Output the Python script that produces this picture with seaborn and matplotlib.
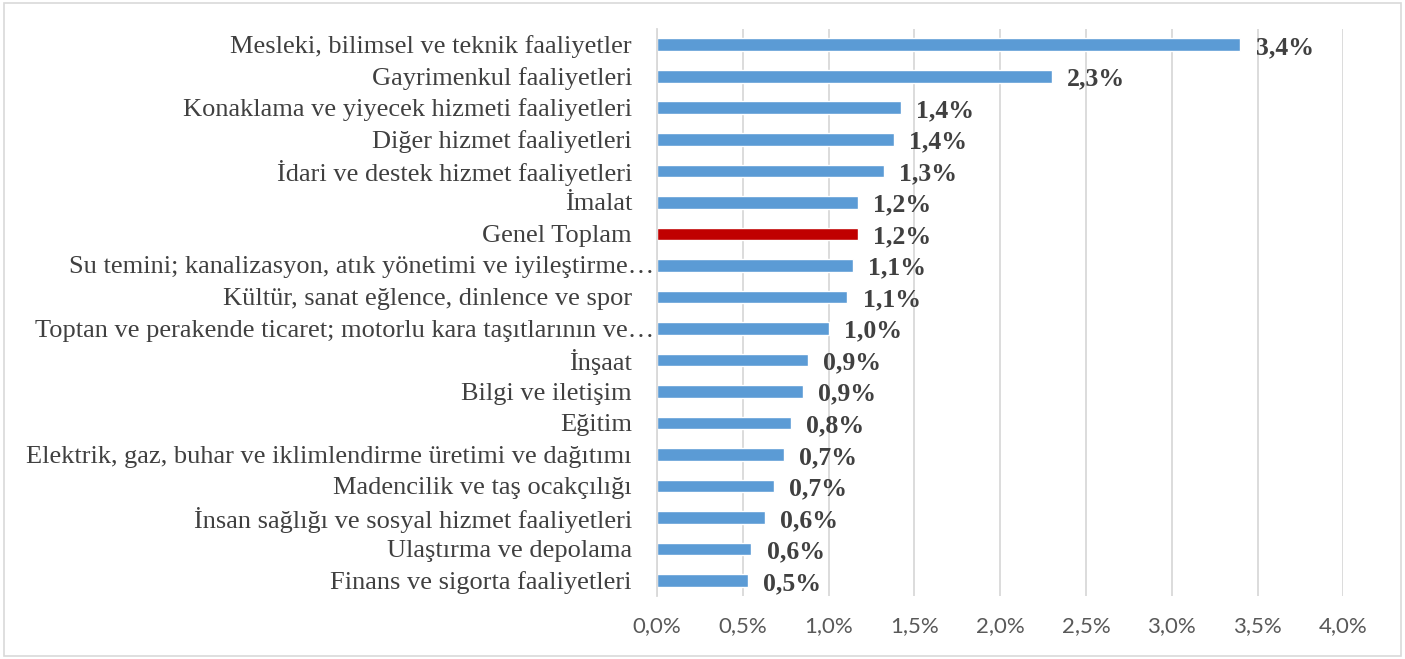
import matplotlib
matplotlib.use("Agg")
import matplotlib.pyplot as plt
import seaborn as sns
import pandas as pd
from matplotlib.ticker import FuncFormatter
from matplotlib.patches import Rectangle

# sector labels, top to bottom
sectors = [
    "Mesleki, bilimsel ve teknik faaliyetler",
    "Gayrimenkul faaliyetleri",
    "Konaklama ve yiyecek hizmeti faaliyetleri",
    "Diğer hizmet faaliyetleri",
    "İdari ve destek hizmet faaliyetleri",
    "İmalat",
    "Genel Toplam",
    "Su temini; kanalizasyon, atık yönetimi ve iyileştirme…",
    "Kültür, sanat eğlence, dinlence ve spor",
    "Toptan ve perakende ticaret; motorlu kara taşıtlarının ve…",
    "İnşaat",
    "Bilgi ve iletişim",
    "Eğitim",
    "Elektrik, gaz, buhar ve iklimlendirme üretimi ve dağıtımı",
    "Madencilik ve taş ocakçılığı",
    "İnsan sağlığı ve sosyal hizmet faaliyetleri",
    "Ulaştırma ve depolama",
    "Finans ve sigorta faaliyetleri",
]
shares = [3.40, 2.30, 1.42, 1.38, 1.32, 1.17, 1.17, 1.14, 1.11, 1.00,
          0.88, 0.85, 0.78, 0.74, 0.68, 0.63, 0.55, 0.53]
labels = ["3,4%", "2,3%", "1,4%", "1,4%", "1,3%", "1,2%", "1,2%", "1,1%", "1,1%",
          "1,0%", "0,9%", "0,9%", "0,8%", "0,7%", "0,7%", "0,6%", "0,6%", "0,5%"]

df = pd.DataFrame({"sector": sectors, "share": shares})
df["kind"] = ["total" if s == "Genel Toplam" else "sector" for s in sectors]

sns.set_theme(style="white")

fig = plt.figure(figsize=(14.05, 6.59), dpi=100)
ax = fig.add_axes([0.4676, 0.095, 0.4886, 0.861])

sns.barplot(data=df, x="share", y="sector", hue="kind",
            palette={"sector": "#5B9BD5", "total": "#C00000"},
            saturation=1, dodge=False, width=0.4, legend=False, ax=ax)

ax.set_xlim(0, 4.0)
ax.set_xticks([i * 0.5 for i in range(9)])
ax.xaxis.set_major_formatter(FuncFormatter(lambda v, p: f"{v:.1f}%".replace(".", ",")))
ax.grid(axis="x", color="#D9D9D9", linewidth=1.3)
ax.set_axisbelow(True)
for side in ["top", "right", "bottom"]:
    ax.spines[side].set_visible(False)
ax.spines["left"].set_color("#D9D9D9")
ax.spines["left"].set_linewidth(1.3)
ax.tick_params(axis="both", length=0)
ax.tick_params(axis="x", pad=14)
ax.set_yticklabels([])
ax.set_xlabel("")
ax.set_ylabel("")

for t in ax.get_xticklabels():
    t.set_fontfamily("Lato")
    t.set_fontsize(16)
    t.set_color("#595959")

# category labels; truncated ones run right up to the axis
for i, name in enumerate(sectors):
    dx = -2 if name.endswith("…") else -18
    ax.annotate(name, (0, i), xytext=(dx, -1.5), textcoords="offset points",
                va="center", ha="right", fontsize=19,
                family="Liberation Serif", color="#404040",
                annotation_clip=False)

for i, (v, lab) in enumerate(zip(shares, labels)):
    ax.annotate(lab, (v, i), xytext=(11, -2), textcoords="offset points",
                va="center", ha="left", fontsize=18.5, fontweight="bold",
                family="Liberation Serif", color="#404040")

# outer frame
fig.patches.append(Rectangle((0.003, 0.005), 0.994, 0.99, transform=fig.transFigure,
                             fill=False, edgecolor="#D9D9D9", linewidth=1.2))

fig.savefig("out.png", dpi=100)
